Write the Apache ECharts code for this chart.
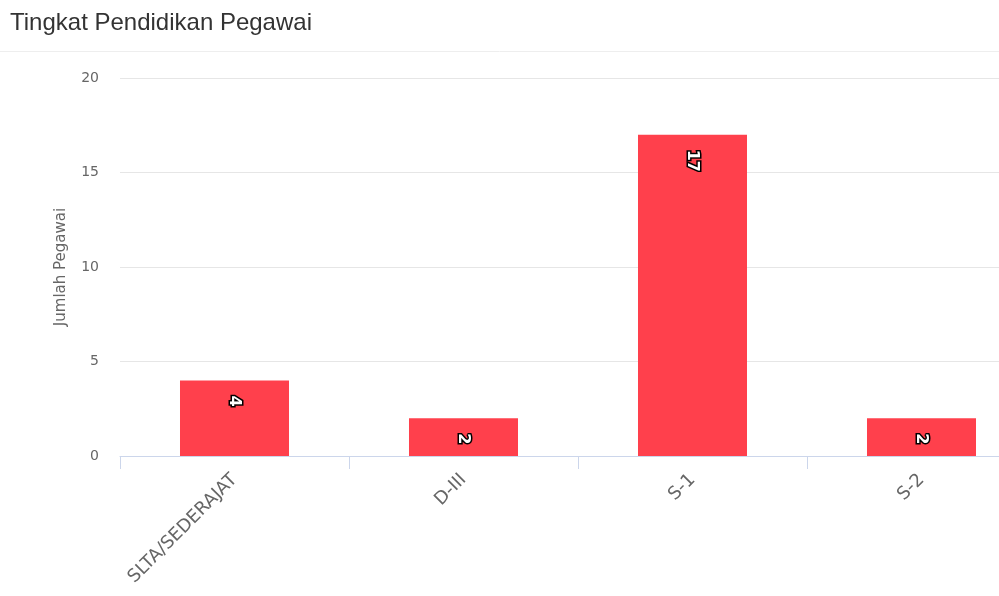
<!DOCTYPE html>
<html>
<head>
<meta charset="utf-8">
<script src="https://cdn.jsdelivr.net/npm/echarts@6/dist/echarts.min.js"></script>
<style>
  html, body { margin: 0; padding: 0; background: #fff; overflow: hidden; }
  #chart { width: 1040px; height: 596px; }
</style>
</head>
<body>
<div id="chart"></div>
<script>
// data
var categories = ["SLTA/SEDERAJAT", "D-III", "S-1", "S-2"];
var jumlahPegawai = [4, 2, 17, 2];
var yTicks = { min: 0, max: 20, interval: 5 };

var axisFont = "DejaVu Sans, sans-serif";

// chart is wider than the window: the reference crops the last category on the right
var chart = echarts.init(document.getElementById("chart"));
chart.setOption({
  animation: false,
  title: {
    text: "Tingkat Pendidikan Pegawai",
    left: 10,
    top: 11,
    padding: 0,
    textStyle: {
      fontFamily: "Liberation Sans, Arial, sans-serif",
      fontWeight: "normal",
      fontSize: 24,
      color: "#333"
    }
  },
  graphic: [
    {
      type: "line",
      shape: { x1: 0, y1: 51.5, x2: 999, y2: 51.5 },
      style: { stroke: "#eeeeee", lineWidth: 1 }
    }
  ],
  grid: {
    left: 120,
    top: 78,
    bottom: 140,
    width: 916
  },
  xAxis: {
    type: "category",
    data: categories,
    axisLine: { lineStyle: { color: "#ccd6eb" } },
    axisTick: { show: true, length: 13, lineStyle: { color: "#ccd6eb" } },
    axisLabel: {
      rotate: 45,
      margin: 21,
      color: "#666",
      fontSize: 18,
      fontFamily: axisFont
    }
  },
  yAxis: {
    type: "value",
    min: yTicks.min,
    max: yTicks.max,
    interval: yTicks.interval,
    name: "Jumlah Pegawai",
    nameLocation: "middle",
    nameGap: 51,
    nameRotate: 90,
    nameTextStyle: {
      color: "#666",
      fontSize: 15,
      fontFamily: axisFont
    },
    axisLine: { show: false },
    axisTick: { show: false },
    axisLabel: {
      margin: 21,
      color: "#666",
      fontSize: 14,
      fontFamily: axisFont
    },
    splitLine: { lineStyle: { color: "#e6e6e6" } }
  },
  series: [
    {
      type: "bar",
      data: jumlahPegawai,
      barWidth: "47.6%",
      itemStyle: { color: "#ff404c" },
      label: {
        show: true,
        position: ["50%", 15],
        rotate: -90,
        align: "left",
        verticalAlign: "middle",
        color: "#fff",
        fontSize: 16,
        fontWeight: "bold",
        fontFamily: axisFont,
        textBorderColor: "#000",
        textBorderWidth: 3
      }
    }
  ]
});
</script>
</body>
</html>
